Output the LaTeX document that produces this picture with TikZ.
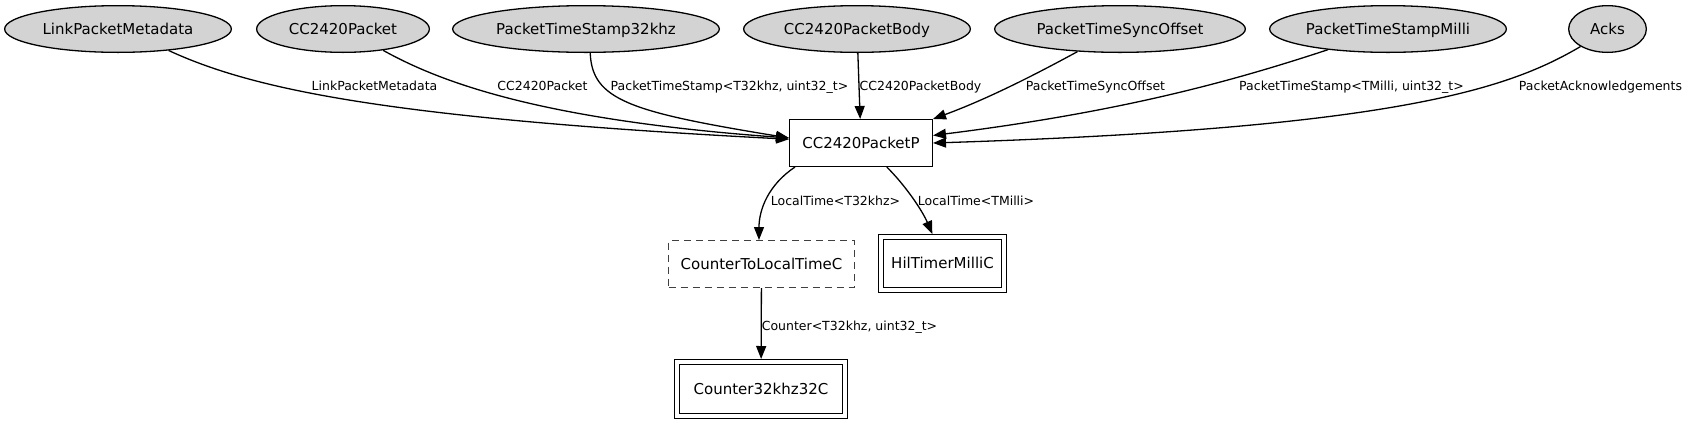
\documentclass[tikz,border=0pt]{standalone}
\usepackage{fontspec}
\setmainfont{DejaVu Sans}
\usepackage{tikz}
\usetikzlibrary{arrows.meta,shapes.geometric,positioning}
\definecolor{ifacegray}{HTML}{D3D3D3}
\newcommand{\compfont}{\fontsize{15}{18}\selectfont}
\newcommand{\wirefont}{\fontsize{12.5}{15}\selectfont}

\begin{document}
\begin{tikzpicture}[x=1pt,y=-1pt,
  iface/.style={ellipse, draw, line width=1.3pt, fill=ifacegray, inner sep=0pt,
    minimum height=46.7pt, font=\compfont, text height=10.9pt, text depth=0pt},
  comp/.style={rectangle, draw, line width=1.3pt, inner sep=0pt,
    minimum height=46.7pt, font=\compfont, text height=10.9pt, text depth=0pt},
  gencomp/.style={comp, draw=black!75, dash pattern=on 7pt off 5pt},
  confcomp/.style={comp, double, double distance=3.7pt, outer sep=3.15pt},
  wire/.style={line width=1.3pt, -{Triangle[length=13pt,width=10pt]}},
  lbl/.style={font=\wirefont, inner sep=0pt, text height=9.1pt, text depth=0pt}]
\useasboundingbox (0,0) rectangle (1691,424);

% interfaces along the top
\foreach \n/\x/\w/\t in {lpm/118/228/LinkPacketMetadata, pkt/343/174/CC2420Packet,
    ts32/586/268/PacketTimeStamp32khz, body/857/228/CC2420PacketBody,
    sync/1120/252/PacketTimeSyncOffset, tsm/1388/238/PacketTimeStampMilli,
    acks/1607.5/79/Acks} {
  \node[iface, minimum width=\w-1.3] (\n) at (\x,29) {\t};
}

% components
\node[comp, minimum width=142.7pt] (pktp) at (861,143) {CC2420PacketP};
\node[gencomp, minimum width=185.7pt] (c2l) at (761.5,264) {CounterToLocalTimeC};
\node[confcomp, minimum width=122.7pt, minimum height=52.7pt] (hil) at (942.5,263.5) {HilTimerMilliC};
\node[confcomp, minimum width=167.7pt, minimum height=53.7pt] (c32) at (761,389) {Counter32khz32C};

% wiring
\draw[wire] (lpm.-23) .. controls (250,88) and (380,118) .. (pktp.177.6);
\draw[wire] (pkt.-28) .. controls (440,82) and (540,120) .. (pktp.176.8);
\draw[wire] (ts32.-80) .. controls (592,100) and (630,112) .. (pktp.176);
\draw[wire] (body) -- (pktp);
\draw[wire] (sync.208) .. controls (1040,72) and (990,98) .. (pktp.north east);
\draw[wire] (tsm.199) .. controls (1230,82) and (1120,112) .. (pktp.6.3);
\draw[wire] (acks.213) .. controls (1510,88) and (1400,128) .. (pktp.0.8);
\draw[wire] (pktp.200.6) .. controls (768,185) and (759,210) .. (c2l.96);
\draw[wire] (pktp.-43) .. controls (905,185) and (922,210) .. (hil.109.6);
\draw[wire] (c2l) -- (c32);

% interface names on the wires
\foreach \n/\x/\y/\t in {wlpm/374.5/86/LinkPacketMetadata, wpkt/542.5/86/CC2420Packet,
    wts32/729.5/86/{PacketTimeStamp<T32khz, uint32\_t>}, wbody/920.5/86/CC2420PacketBody,
    wsync/1095.5/86/PacketTimeSyncOffset, wtsm/1351.5/86/{PacketTimeStamp<TMilli, uint32\_t>},
    wacks/1600.5/86/PacketAcknowledgements, wlt32/835.5/201/LocalTime<T32khz>,
    wltm/976/201/LocalTime<TMilli>, wcnt/849.5/326/{Counter<T32khz, uint32\_t>}} {
  \node[lbl] (\n) at (\x,\y) {\t};
}
\end{tikzpicture}
\end{document}
